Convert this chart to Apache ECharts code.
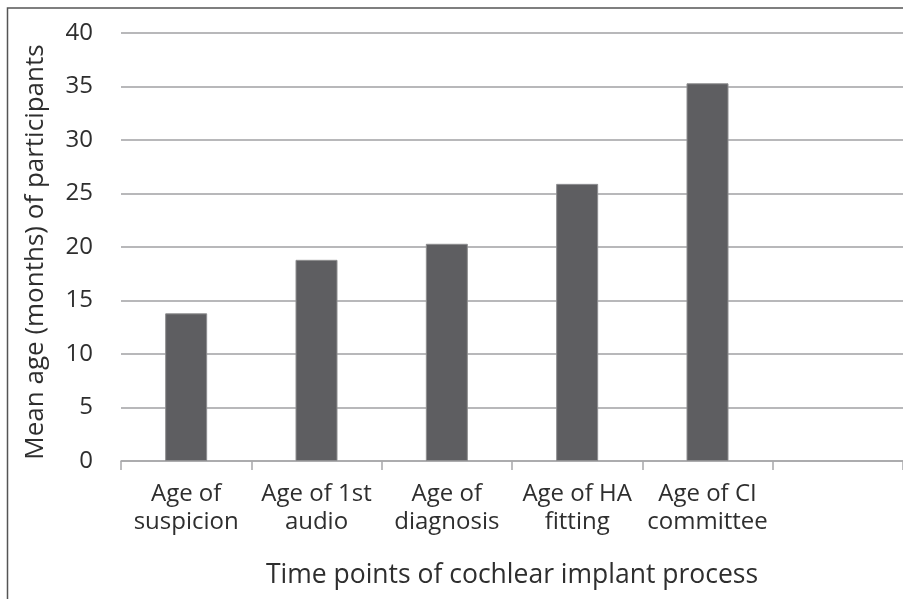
<!DOCTYPE html>
<html>
<head>
<meta charset="utf-8">
<script src="https://cdn.jsdelivr.net/npm/echarts@6/dist/echarts.min.js"></script>
<style>
html,body{margin:0;padding:0;background:#fff;}
#chart{width:903px;height:599px;}
</style>
</head>
<body>
<div id="chart"></div>
<script>
// categories (last slot is empty in the original)
var categories = ['Age of\nsuspicion', 'Age of 1st\naudio', 'Age of\ndiagnosis', 'Age of HA\nfitting', 'Age of CI\ncommittee', ''];
var meanAge = [13.8, 18.8, 20.3, 25.9, 35.3, null];
var yTicks = {min: 0, max: 40, interval: 5};

var font = 'Open Sans';
var dom = echarts.init(document.getElementById('chart'));
var option = {
	animation: false,
	backgroundColor: '#fff',
	graphic: [{
		type: 'rect',
		shape: {x: 7.5, y: 8, width: 910, height: 600},
		style: {fill: 'none', stroke: '#555', lineWidth: 1.5}
	}],
	grid: {left: 121, right: -1, top: 33, bottom: 138},
	xAxis: {
		type: 'category',
		data: categories,
		name: 'Time points of cochlear implant process',
		nameLocation: 'middle',
		nameGap: 101,
		nameTextStyle: {fontFamily: font, fontSize: 26.5, color: '#2e2e2e'},
		axisLine: {lineStyle: {color: '#a8a8aa', width: 1.5}},
		axisTick: {show: true, length: 9, lineStyle: {color: '#a8a8aa', width: 1.5}},
		axisLabel: {fontFamily: font, fontSize: 24, color: '#2e2e2e', margin: 19, lineHeight: 28, interval: 0}
	},
	yAxis: {
		type: 'value',
		min: yTicks.min,
		max: yTicks.max,
		interval: yTicks.interval,
		name: 'Mean age (months) of participants',
		nameLocation: 'middle',
		nameGap: 72,
		nameTextStyle: {fontFamily: font, fontSize: 26, color: '#2e2e2e', padding: [0, 10, 0, 0]},
		axisLine: {show: false},
		axisTick: {show: false},
		axisLabel: {fontFamily: font, fontSize: 24, color: '#2e2e2e', margin: 28},
		splitLine: {lineStyle: {color: '#b8b8ba', width: 2}}
	},
	series: [{
		type: 'bar',
		data: meanAge,
		barWidth: 42,
		itemStyle: {color: '#5e5e61', borderColor: '#8e8e90', borderWidth: 1}
	}]
};
dom.setOption(option);
</script>
</body>
</html>
